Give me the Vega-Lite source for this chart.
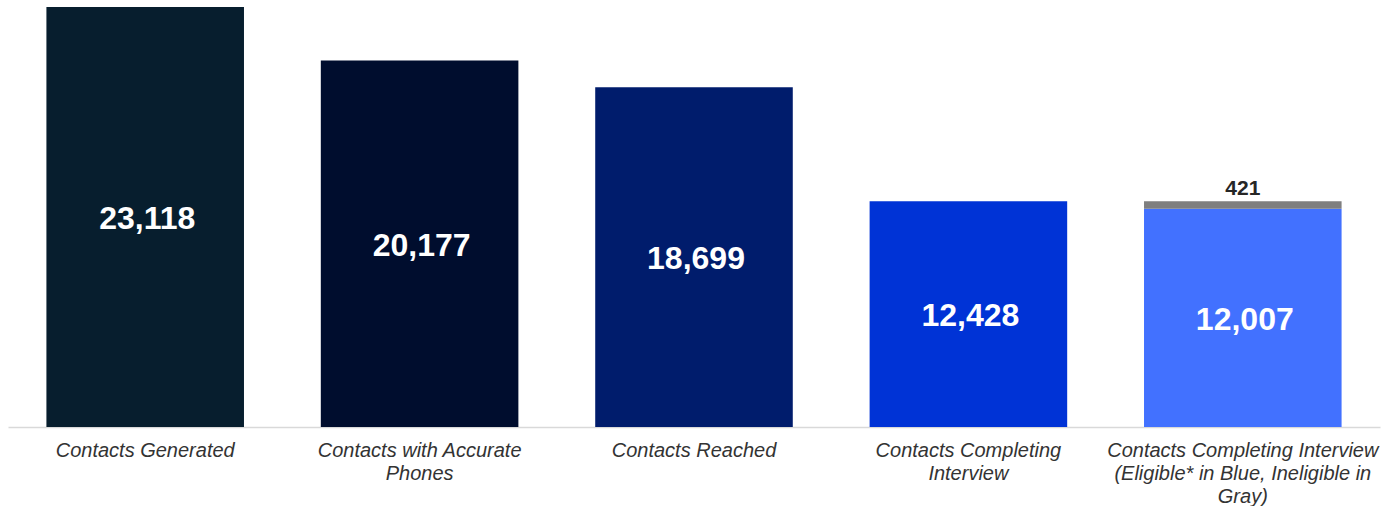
{
  "$schema": "https://vega.github.io/schema/vega-lite/v6.json",
  "autosize": {"type": "none"},
  "padding": {"left": 8, "top": 7, "right": 1, "bottom": 79},
  "width": 1372,
  "height": 420,
  "background": "white",
  "config": {"view": {"stroke": null}},
  "data": {
    "values": [
      {"stage": "Contacts Generated", "series": "Generated", "part": "main", "value": 23118},
      {"stage": "Contacts with Accurate|Phones", "series": "Accurate", "part": "main", "value": 20177},
      {"stage": "Contacts Reached", "series": "Reached", "part": "main", "value": 18699},
      {"stage": "Contacts Completing|Interview", "series": "Completing", "part": "main", "value": 12428},
      {"stage": "Contacts Completing Interview|(Eligible* in Blue, Ineligible in|Gray)", "series": "Eligible", "part": "main", "value": 12007},
      {"stage": "Contacts Completing Interview|(Eligible* in Blue, Ineligible in|Gray)", "series": "Ineligible", "part": "top", "value": 421}
    ]
  },
  "transform": [
    {"joinaggregate": [{"op": "sum", "field": "value", "as": "total"}], "groupby": ["stage"]},
    {"calculate": "datum.value / 2", "as": "mid"}
  ],
  "encoding": {
    "x": {
      "field": "stage",
      "type": "nominal",
      "sort": null,
      "scale": {"paddingInner": 0.28, "paddingOuter": 0.14},
      "axis": {
        "title": null,
        "labelAngle": 0,
        "ticks": false,
        "domainColor": "#d9d9d9",
        "domainWidth": 1.5,
        "labelExpr": "split(datum.label, '|')",
        "labelFont": "Liberation Sans, Arial",
        "labelFontStyle": "italic",
        "labelFontSize": 20,
        "labelLineHeight": 23,
        "labelColor": "#333333",
        "labelPadding": 13,
        "labelLimit": 0
      }
    }
  },
  "layer": [
    {
      "mark": {"type": "bar"},
      "encoding": {
        "y": {"field": "value", "type": "quantitative", "stack": "zero", "scale": {"domain": [0, 23118], "nice": false, "zero": true}, "axis": null},
        "color": {
          "field": "series",
          "type": "nominal",
          "scale": {
            "domain": ["Generated", "Accurate", "Reached", "Completing", "Eligible", "Ineligible"],
            "range": ["#071e2e", "#000d2e", "#001c6c", "#0033d6", "#4271ff", "#7f7f7f"]
          },
          "legend": null
        },
        "order": {"field": "series", "sort": "ascending"}
      }
    },
    {
      "transform": [{"filter": "datum.part == 'main'"}],
      "mark": {"type": "text", "font": "Liberation Sans, Arial", "fontWeight": "bold", "fontSize": 32, "color": "white", "baseline": "middle", "align": "center", "dy": 2, "dx": 2},
      "encoding": {
        "y": {"field": "mid", "type": "quantitative"},
        "text": {"field": "value", "type": "quantitative", "format": ","}
      }
    },
    {
      "transform": [{"filter": "datum.part == 'top'"}],
      "mark": {"type": "text", "font": "Liberation Sans, Arial", "fontWeight": "bold", "fontSize": 21, "color": "#262626", "baseline": "alphabetic", "align": "center", "dy": -6},
      "encoding": {
        "y": {"field": "total", "type": "quantitative"},
        "text": {"field": "value", "type": "quantitative", "format": ","}
      }
    }
  ]
}
